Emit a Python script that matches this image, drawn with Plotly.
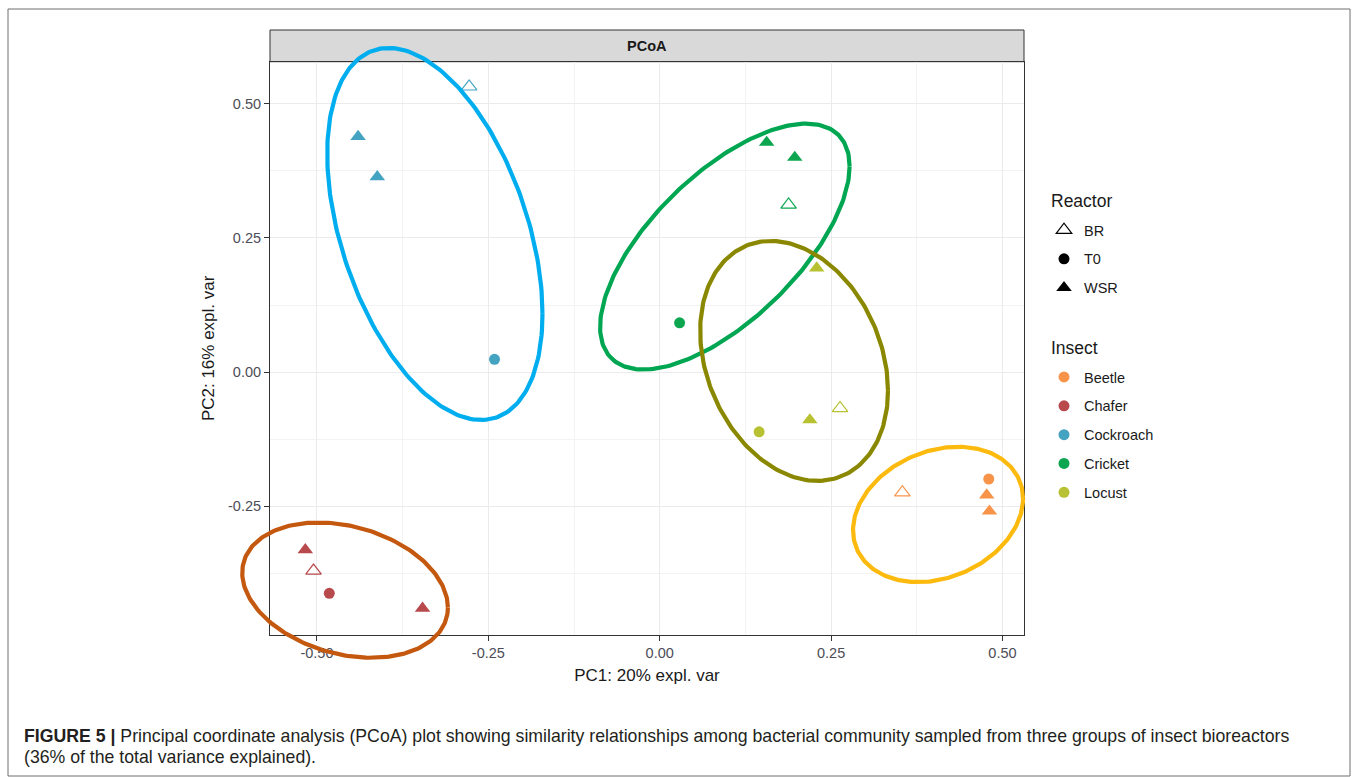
import numpy as np
import plotly.graph_objects as go

W, H = 1358, 777

# ---------------- data ----------------
insect = (["Cockroach"] * 4 + ["Cricket"] * 4 + ["Locust"] * 4 +
          ["Beetle"] * 4 + ["Chafer"] * 4)
reactor = ["BR", "WSR", "WSR", "T0",
           "WSR", "WSR", "BR", "T0",
           "WSR", "BR", "WSR", "T0",
           "BR", "T0", "WSR", "WSR",
           "WSR", "BR", "T0", "WSR"]
pc1 = [-0.278, -0.440, -0.412, -0.241,
       0.156, 0.197, 0.188, 0.029,
       0.229, 0.263, 0.219, 0.145,
       0.354, 0.480, 0.477, 0.481,
       -0.517, -0.505, -0.482, -0.346]
pc2 = [0.532, 0.439, 0.364, 0.024,
       0.428, 0.400, 0.312, 0.092,
       0.194, -0.067, -0.089, -0.111,
       -0.224, -0.199, -0.229, -0.259,
       -0.331, -0.370, -0.412, -0.440]

insect_order = ["Beetle", "Chafer", "Cockroach", "Cricket", "Locust"]
insect_colors = ["#F7944A", "#B84A4E", "#45A3C2", "#0BA64F", "#B7C131"]
reactor_order = ["BR", "T0", "WSR"]
reactor_symbols = ["triangle-up-open", "circle", "triangle-up"]

# ellipses: centre, half-width (x), half-height (y), correlation
ell_group = ["Cockroach", "Cricket", "Locust", "Beetle", "Chafer"]
ell_cx = [-0.328, 0.095, 0.196, 0.406, -0.459]
ell_cy = [0.2575, 0.234, 0.021, -0.265, -0.406]
ell_rx = [0.157, 0.182, 0.137, 0.124, 0.150]
ell_ry = [0.3465, 0.229, 0.2235, 0.126, 0.126]
ell_rho = [-0.43, 0.653, -0.248, 0.234, -0.257]
ell_colors = ["#00AEEF", "#00A651", "#8A8800", "#FDBA0E", "#C4580F"]

x_ticks = [-0.5, -0.25, 0.0, 0.25, 0.5]
x_ticktext = ["-0.50", "-0.25", "0.00", "0.25", "0.50"]
y_ticks = [-0.25, 0.0, 0.25, 0.5]
y_ticktext = ["-0.25", "0.00", "0.25", "0.50"]
minor_ticks = [-0.375, -0.125, 0.125, 0.375]

x_range = [-0.5685, 0.5314]
y_range = [-0.4896, 0.5784]

caption_line1 = ("<b>FIGURE 5 |</b> Principal coordinate analysis (PCoA) plot showing similarity "
                 "relationships among bacterial community sampled from three groups of insect bioreactors")
caption_line2 = "(36% of the total variance explained)."

# ---------------- layout geometry ----------------
FONT = "Liberation Sans, Arial, sans-serif"
xd = [270 / W, 1024 / W]
yd = [1 - 635 / H, 1 - 61.7 / H]

# overlay axes spanning full paper with identical data scale (so ellipses are not clipped)
sx = (x_range[1] - x_range[0]) / (xd[1] - xd[0])
sy = (y_range[1] - y_range[0]) / (yd[1] - yd[0])
x2_range = [x_range[0] - xd[0] * sx, x_range[0] + (1 - xd[0]) * sx]
y2_range = [y_range[0] - yd[0] * sy, y_range[0] + (1 - yd[0]) * sy]

fig = go.Figure()

# points
for ins, col in zip(insect_order, insect_colors):
    for rea, sym in zip(reactor_order, reactor_symbols):
        xs = [x for x, i, r in zip(pc1, insect, reactor) if i == ins and r == rea]
        ys = [y for y, i, r in zip(pc2, insect, reactor) if i == ins and r == rea]
        if not xs:
            continue
        is_circle = sym == "circle"
        fig.add_trace(go.Scatter(
            x=xs, y=ys, mode="markers", showlegend=False,
            marker=dict(symbol=sym, size=11 if is_circle else 13.5, color=col,
                        line=dict(color=col, width=1.2 if sym.endswith("open") else 0)),
            xaxis="x", yaxis="y", hoverinfo="skip"))

# ellipses on overlay axes
t = np.linspace(0, 2 * np.pi, 240)
for g, cx, cy, rx, ry, rho, col in zip(ell_group, ell_cx, ell_cy, ell_rx, ell_ry, ell_rho, ell_colors):
    ex = cx + rx * np.cos(t)
    ey = cy + ry * (rho * np.cos(t) + np.sqrt(1 - rho ** 2) * np.sin(t))
    fig.add_trace(go.Scatter(x=ex, y=ey, mode="lines", showlegend=False,
                             line=dict(color=col, width=4.2), xaxis="x2", yaxis="y2",
                             hoverinfo="skip"))

# legend: Reactor
for rea, sym in zip(reactor_order, reactor_symbols):
    fig.add_trace(go.Scatter(
        x=[None], y=[None], mode="markers", name=rea, legend="legend",
        legendgroup="r_" + rea,
        marker=dict(symbol=sym, size=11 if sym == "circle" else 13.5, color="black",
                    line=dict(color="black", width=1.2 if sym.endswith("open") else 0))))
# legend: Insect
for ins, col in zip(insect_order, insect_colors):
    fig.add_trace(go.Scatter(
        x=[None], y=[None], mode="markers", name=ins, legend="legend2",
        legendgroup="i_" + ins,
        marker=dict(symbol="circle", size=11, color=col)))

axis_common = dict(
    showline=True, mirror=True, linecolor="#333333", linewidth=1,
    ticks="outside", ticklen=5, tickcolor="#333333", tickwidth=1,
    showgrid=True, gridcolor="#EBEBEB", gridwidth=1, zeroline=False,
    tickfont=dict(family=FONT, size=14.5, color="#4D4D58"),
    minor=dict(tickvals=minor_ticks, showgrid=True, gridcolor="#F3F3F3", gridwidth=1, ticks=""),
)

fig.update_layout(
    width=W, height=H, autosize=False,
    margin=dict(l=0, r=0, t=0, b=0),
    paper_bgcolor="white", plot_bgcolor="rgba(0,0,0,0)",
    font=dict(family=FONT, color="#1A1A1A"),
    xaxis=dict(domain=xd, range=x_range, anchor="y", tickvals=x_ticks, ticktext=x_ticktext,
               title=dict(text="PC1: 20% expl. var", standoff=8,
                          font=dict(family=FONT, size=17, color="#1A1A1A")),
               **axis_common),
    yaxis=dict(domain=yd, range=y_range, anchor="x", tickvals=y_ticks, ticktext=y_ticktext,
               title=dict(text="PC2: 16% expl. var", standoff=9,
                          font=dict(family=FONT, size=17, color="#1A1A1A")),
               **axis_common),
    xaxis2=dict(domain=[0, 1], range=x2_range, anchor="y2", visible=False, fixedrange=True),
    yaxis2=dict(domain=[0, 1], range=y2_range, anchor="x2", visible=False, fixedrange=True),
    legend=dict(x=1044 / W, xanchor="left", y=1 - 214 / H, yanchor="top",
                font=dict(family=FONT, size=14.5, color="#1A1A1A"),
                traceorder="grouped", tracegroupgap=7, bgcolor="rgba(0,0,0,0)"),
    legend2=dict(x=1044 / W, xanchor="left", y=1 - 361 / H, yanchor="top",
                 font=dict(family=FONT, size=14.5, color="#1A1A1A"),
                 traceorder="grouped", tracegroupgap=7, bgcolor="rgba(0,0,0,0)"),
    showlegend=True,
)

# legend titles
for title, ypix in [("Reactor", 201), ("Insect", 348)]:
    fig.add_annotation(text=title, xref="paper", yref="paper", x=1049 / W, y=1 - ypix / H,
                       xanchor="left", yanchor="middle", showarrow=False,
                       font=dict(family=FONT, size=17.5, color="#1A1A1A"))

# outer figure border, facet strip
fig.add_shape(type="rect", xref="paper", yref="paper", x0=8 / W, x1=1350 / W,
              y0=1 - 776 / H, y1=1 - 9 / H, line=dict(color="#6E6E6E", width=1),
              fillcolor="rgba(0,0,0,0)", layer="below")
fig.add_shape(type="rect", xref="paper", yref="paper", x0=xd[0], x1=xd[1],
              y0=yd[1], y1=1 - 30 / H, line=dict(color="#333333", width=1),
              fillcolor="#D9D9D9", layer="below")
fig.add_annotation(text="<b>PCoA</b>", xref="paper", yref="paper",
                   x=(xd[0] + xd[1]) / 2, y=1 - 46 / H, xanchor="center", yanchor="middle",
                   showarrow=False, font=dict(family=FONT, size=14.5, color="#1A1A1A"))

# caption
for line, ypix in [(caption_line1, 736), (caption_line2, 757)]:
    fig.add_annotation(text=line, xref="paper", yref="paper", x=22 / W, y=1 - ypix / H,
                       xanchor="left", yanchor="middle", align="left", showarrow=False,
                       font=dict(family=FONT, size=17.7, color="#231F20"))

fig.write_html("out.html")
